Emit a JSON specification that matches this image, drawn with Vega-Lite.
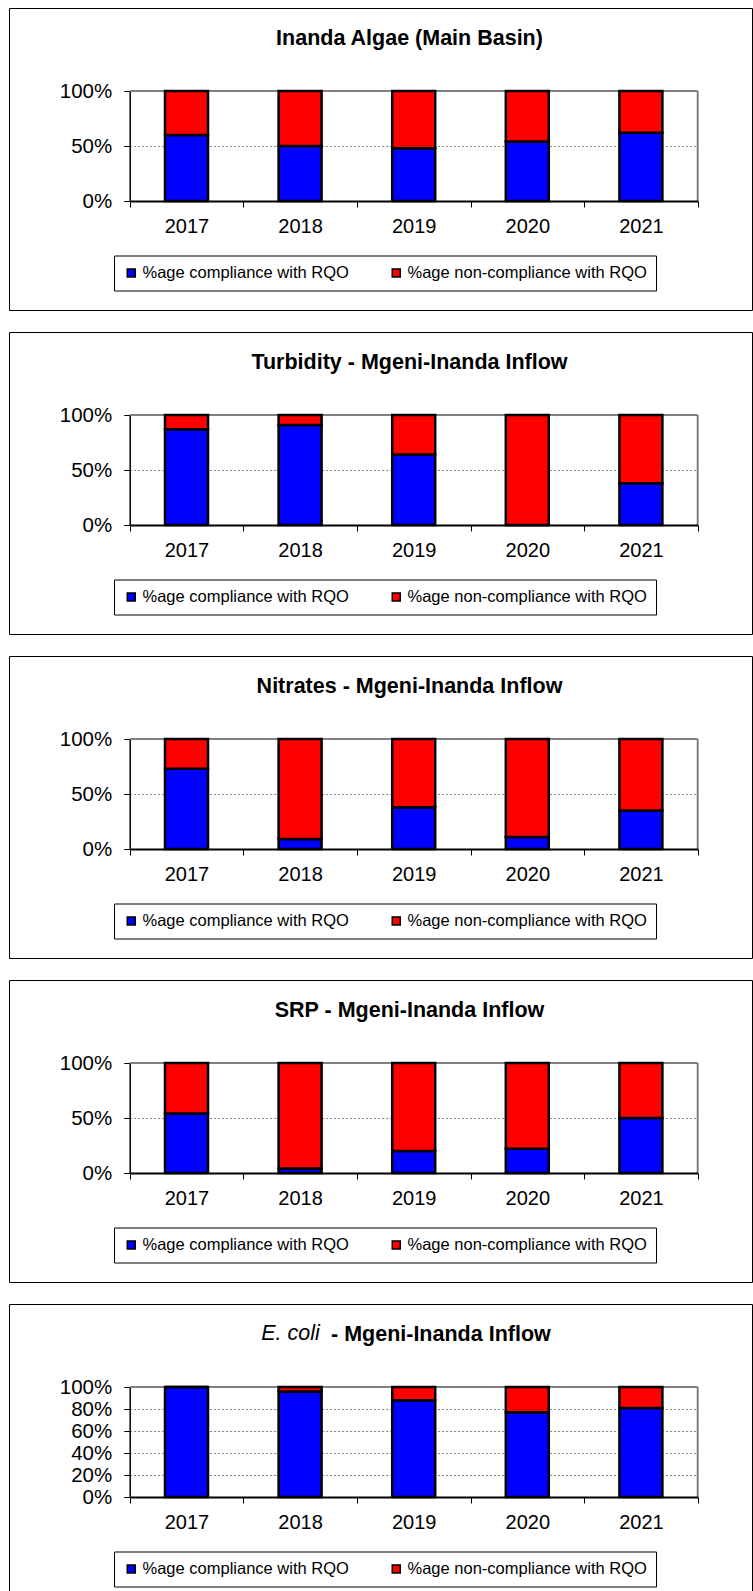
{
  "$schema": "https://vega.github.io/schema/vega-lite/v6.json",
  "padding": {"left": 8, "top": 7, "right": 0, "bottom": 0},
  "background": "white",
  "config": {
    "font": "Liberation Sans",
    "view": {"stroke": "black", "strokeWidth": 1},
    "axis": {"labelFont": "Liberation Sans", "labelColor": "black", "labelFontSize": 20},
    "legend": {"labelFont": "Liberation Sans", "labelColor": "black"},
    "scale": {"continuousPadding": 0}
  },
  "datasets": {
    "algae": [
      {"year": 2017, "series": "%age compliance with RQO", "value": 0.60},
      {"year": 2017, "series": "%age non-compliance with RQO", "value": 0.40},
      {"year": 2018, "series": "%age compliance with RQO", "value": 0.50},
      {"year": 2018, "series": "%age non-compliance with RQO", "value": 0.50},
      {"year": 2019, "series": "%age compliance with RQO", "value": 0.48},
      {"year": 2019, "series": "%age non-compliance with RQO", "value": 0.52},
      {"year": 2020, "series": "%age compliance with RQO", "value": 0.54},
      {"year": 2020, "series": "%age non-compliance with RQO", "value": 0.46},
      {"year": 2021, "series": "%age compliance with RQO", "value": 0.62},
      {"year": 2021, "series": "%age non-compliance with RQO", "value": 0.38}
    ],
    "turbidity": [
      {"year": 2017, "series": "%age compliance with RQO", "value": 0.87},
      {"year": 2017, "series": "%age non-compliance with RQO", "value": 0.13},
      {"year": 2018, "series": "%age compliance with RQO", "value": 0.91},
      {"year": 2018, "series": "%age non-compliance with RQO", "value": 0.09},
      {"year": 2019, "series": "%age compliance with RQO", "value": 0.64},
      {"year": 2019, "series": "%age non-compliance with RQO", "value": 0.36},
      {"year": 2020, "series": "%age compliance with RQO", "value": 0.0},
      {"year": 2020, "series": "%age non-compliance with RQO", "value": 1.0},
      {"year": 2021, "series": "%age compliance with RQO", "value": 0.38},
      {"year": 2021, "series": "%age non-compliance with RQO", "value": 0.62}
    ],
    "nitrates": [
      {"year": 2017, "series": "%age compliance with RQO", "value": 0.73},
      {"year": 2017, "series": "%age non-compliance with RQO", "value": 0.27},
      {"year": 2018, "series": "%age compliance with RQO", "value": 0.09},
      {"year": 2018, "series": "%age non-compliance with RQO", "value": 0.91},
      {"year": 2019, "series": "%age compliance with RQO", "value": 0.38},
      {"year": 2019, "series": "%age non-compliance with RQO", "value": 0.62},
      {"year": 2020, "series": "%age compliance with RQO", "value": 0.11},
      {"year": 2020, "series": "%age non-compliance with RQO", "value": 0.89},
      {"year": 2021, "series": "%age compliance with RQO", "value": 0.35},
      {"year": 2021, "series": "%age non-compliance with RQO", "value": 0.65}
    ],
    "srp": [
      {"year": 2017, "series": "%age compliance with RQO", "value": 0.54},
      {"year": 2017, "series": "%age non-compliance with RQO", "value": 0.46},
      {"year": 2018, "series": "%age compliance with RQO", "value": 0.04},
      {"year": 2018, "series": "%age non-compliance with RQO", "value": 0.96},
      {"year": 2019, "series": "%age compliance with RQO", "value": 0.20},
      {"year": 2019, "series": "%age non-compliance with RQO", "value": 0.80},
      {"year": 2020, "series": "%age compliance with RQO", "value": 0.22},
      {"year": 2020, "series": "%age non-compliance with RQO", "value": 0.78},
      {"year": 2021, "series": "%age compliance with RQO", "value": 0.50},
      {"year": 2021, "series": "%age non-compliance with RQO", "value": 0.50}
    ],
    "ecoli": [
      {"year": 2017, "series": "%age compliance with RQO", "value": 1.0},
      {"year": 2017, "series": "%age non-compliance with RQO", "value": 0.0},
      {"year": 2018, "series": "%age compliance with RQO", "value": 0.96},
      {"year": 2018, "series": "%age non-compliance with RQO", "value": 0.04},
      {"year": 2019, "series": "%age compliance with RQO", "value": 0.88},
      {"year": 2019, "series": "%age non-compliance with RQO", "value": 0.12},
      {"year": 2020, "series": "%age compliance with RQO", "value": 0.77},
      {"year": 2020, "series": "%age non-compliance with RQO", "value": 0.23},
      {"year": 2021, "series": "%age compliance with RQO", "value": 0.81},
      {"year": 2021, "series": "%age non-compliance with RQO", "value": 0.19}
    ],
    "one": [{}]
  },
  "spacing": 20,
  "resolve": {
    "scale": {"x": "independent", "y": "independent", "color": "independent"},
    "axis": {"x": "independent", "y": "independent"},
    "legend": {"color": "independent"}
  },
  "vconcat": [
    {
      "width": 743, "height": 302,
      "title": {"text": "Inanda Algae (Main Basin)", "anchor": "middle", "fontSize": 21.5, "fontWeight": "bold", "color": "black", "font": "Liberation Sans", "offset": -41, "dx": 29},
      "layer": [
        {"data": {"name": "one"}, "mark": {"type": "rule", "color": "#808080", "strokeWidth": 2},
         "encoding": {
           "x": {"datum": 2016.5, "type": "quantitative", "scale": {"domain": [2016.5, 2021.5], "range": [120.7, 688.7], "nice": false, "zero": false, "padding": 0},
                 "axis": {"title": null, "values": [2016.5, 2017.5, 2018.5, 2019.5, 2020.5, 2021.5], "labelExpr": "datum.value < 2021 ? format(datum.value + 0.5, 'd') : ''", "labelOffset": 56.8, "offset": -109, "tickSize": 6, "tickColor": "black", "domainColor": "black", "domainWidth": 2, "labelPadding": 9, "grid": false, "labelFlush": false, "labelOverlap": false, "labelBound": false, "zindex": 1}},
           "x2": {"datum": 2021.5},
           "y": {"datum": 1, "type": "quantitative", "scale": {"domain": [0, 1], "range": [193, 83], "nice": false, "zero": false},
                 "axis": {"title": null, "values": [0, 0.5, 1], "format": ".0%", "offset": -120.7, "grid": true, "gridColor": "#808080", "gridDash": [2, 2], "gridWidth": 1, "tickSize": 6, "tickColor": "black", "domainColor": "black", "domainWidth": 1.5, "labelPadding": 12, "labelFontSize": 20.5, "zindex": 0}}}},
        {"data": {"name": "one"}, "mark": {"type": "rule", "color": "#808080", "strokeWidth": 2},
         "encoding": {"x": {"datum": 2021.5, "type": "quantitative"}, "y": {"datum": 0, "type": "quantitative"}, "y2": {"datum": 1}}},
        {"data": {"name": "algae"}, "mark": {"type": "bar", "width": 43, "stroke": "black", "strokeWidth": 2.5},
         "encoding": {
           "x": {"field": "year", "type": "quantitative"},
           "y": {"field": "value", "type": "quantitative", "stack": "zero"},
           "order": {"field": "series", "type": "ordinal", "sort": "ascending"},
           "color": {"field": "series", "type": "nominal", "scale": {"domain": ["%age compliance with RQO", "%age non-compliance with RQO"], "range": ["#0000FF", "#FF0000"]},
                     "legend": {"orient": "none", "legendX": 105, "legendY": 247.5, "direction": "horizontal", "columns": 2, "gridAlign": "all", "title": null, "strokeColor": "black", "padding": 9, "symbolType": "square", "symbolSize": 64, "symbolStrokeColor": "black", "symbolStrokeWidth": 1.5, "labelFontSize": 16.5, "labelOffset": 3, "columnPadding": 6, "labelLimit": 400}}
         }}
      ]
    },
    {
      "width": 743, "height": 302,
      "title": {"text": "Turbidity - Mgeni-Inanda Inflow", "anchor": "middle", "fontSize": 21.5, "fontWeight": "bold", "color": "black", "font": "Liberation Sans", "offset": -41, "dx": 29},
      "layer": [
        {"data": {"name": "one"}, "mark": {"type": "rule", "color": "#808080", "strokeWidth": 2},
         "encoding": {
           "x": {"datum": 2016.5, "type": "quantitative", "scale": {"domain": [2016.5, 2021.5], "range": [120.7, 688.7], "nice": false, "zero": false, "padding": 0},
                 "axis": {"title": null, "values": [2016.5, 2017.5, 2018.5, 2019.5, 2020.5, 2021.5], "labelExpr": "datum.value < 2021 ? format(datum.value + 0.5, 'd') : ''", "labelOffset": 56.8, "offset": -109, "tickSize": 6, "tickColor": "black", "domainColor": "black", "domainWidth": 2, "labelPadding": 9, "grid": false, "labelFlush": false, "labelOverlap": false, "labelBound": false, "zindex": 1}},
           "x2": {"datum": 2021.5},
           "y": {"datum": 1, "type": "quantitative", "scale": {"domain": [0, 1], "range": [193, 83], "nice": false, "zero": false},
                 "axis": {"title": null, "values": [0, 0.5, 1], "format": ".0%", "offset": -120.7, "grid": true, "gridColor": "#808080", "gridDash": [2, 2], "gridWidth": 1, "tickSize": 6, "tickColor": "black", "domainColor": "black", "domainWidth": 1.5, "labelPadding": 12, "labelFontSize": 20.5, "zindex": 0}}}},
        {"data": {"name": "one"}, "mark": {"type": "rule", "color": "#808080", "strokeWidth": 2},
         "encoding": {"x": {"datum": 2021.5, "type": "quantitative"}, "y": {"datum": 0, "type": "quantitative"}, "y2": {"datum": 1}}},
        {"data": {"name": "turbidity"}, "mark": {"type": "bar", "width": 43, "stroke": "black", "strokeWidth": 2.5},
         "encoding": {
           "x": {"field": "year", "type": "quantitative"},
           "y": {"field": "value", "type": "quantitative", "stack": "zero"},
           "order": {"field": "series", "type": "ordinal", "sort": "ascending"},
           "color": {"field": "series", "type": "nominal", "scale": {"domain": ["%age compliance with RQO", "%age non-compliance with RQO"], "range": ["#0000FF", "#FF0000"]},
                     "legend": {"orient": "none", "legendX": 105, "legendY": 247.5, "direction": "horizontal", "columns": 2, "gridAlign": "all", "title": null, "strokeColor": "black", "padding": 9, "symbolType": "square", "symbolSize": 64, "symbolStrokeColor": "black", "symbolStrokeWidth": 1.5, "labelFontSize": 16.5, "labelOffset": 3, "columnPadding": 6, "labelLimit": 400}}
         }}
      ]
    },
    {
      "width": 743, "height": 302,
      "title": {"text": "Nitrates - Mgeni-Inanda Inflow", "anchor": "middle", "fontSize": 21.5, "fontWeight": "bold", "color": "black", "font": "Liberation Sans", "offset": -41, "dx": 29},
      "layer": [
        {"data": {"name": "one"}, "mark": {"type": "rule", "color": "#808080", "strokeWidth": 2},
         "encoding": {
           "x": {"datum": 2016.5, "type": "quantitative", "scale": {"domain": [2016.5, 2021.5], "range": [120.7, 688.7], "nice": false, "zero": false, "padding": 0},
                 "axis": {"title": null, "values": [2016.5, 2017.5, 2018.5, 2019.5, 2020.5, 2021.5], "labelExpr": "datum.value < 2021 ? format(datum.value + 0.5, 'd') : ''", "labelOffset": 56.8, "offset": -109, "tickSize": 6, "tickColor": "black", "domainColor": "black", "domainWidth": 2, "labelPadding": 9, "grid": false, "labelFlush": false, "labelOverlap": false, "labelBound": false, "zindex": 1}},
           "x2": {"datum": 2021.5},
           "y": {"datum": 1, "type": "quantitative", "scale": {"domain": [0, 1], "range": [193, 83], "nice": false, "zero": false},
                 "axis": {"title": null, "values": [0, 0.5, 1], "format": ".0%", "offset": -120.7, "grid": true, "gridColor": "#808080", "gridDash": [2, 2], "gridWidth": 1, "tickSize": 6, "tickColor": "black", "domainColor": "black", "domainWidth": 1.5, "labelPadding": 12, "labelFontSize": 20.5, "zindex": 0}}}},
        {"data": {"name": "one"}, "mark": {"type": "rule", "color": "#808080", "strokeWidth": 2},
         "encoding": {"x": {"datum": 2021.5, "type": "quantitative"}, "y": {"datum": 0, "type": "quantitative"}, "y2": {"datum": 1}}},
        {"data": {"name": "nitrates"}, "mark": {"type": "bar", "width": 43, "stroke": "black", "strokeWidth": 2.5},
         "encoding": {
           "x": {"field": "year", "type": "quantitative"},
           "y": {"field": "value", "type": "quantitative", "stack": "zero"},
           "order": {"field": "series", "type": "ordinal", "sort": "ascending"},
           "color": {"field": "series", "type": "nominal", "scale": {"domain": ["%age compliance with RQO", "%age non-compliance with RQO"], "range": ["#0000FF", "#FF0000"]},
                     "legend": {"orient": "none", "legendX": 105, "legendY": 247.5, "direction": "horizontal", "columns": 2, "gridAlign": "all", "title": null, "strokeColor": "black", "padding": 9, "symbolType": "square", "symbolSize": 64, "symbolStrokeColor": "black", "symbolStrokeWidth": 1.5, "labelFontSize": 16.5, "labelOffset": 3, "columnPadding": 6, "labelLimit": 400}}
         }}
      ]
    },
    {
      "width": 743, "height": 302,
      "title": {"text": "SRP - Mgeni-Inanda Inflow", "anchor": "middle", "fontSize": 21.5, "fontWeight": "bold", "color": "black", "font": "Liberation Sans", "offset": -41, "dx": 29},
      "layer": [
        {"data": {"name": "one"}, "mark": {"type": "rule", "color": "#808080", "strokeWidth": 2},
         "encoding": {
           "x": {"datum": 2016.5, "type": "quantitative", "scale": {"domain": [2016.5, 2021.5], "range": [120.7, 688.7], "nice": false, "zero": false, "padding": 0},
                 "axis": {"title": null, "values": [2016.5, 2017.5, 2018.5, 2019.5, 2020.5, 2021.5], "labelExpr": "datum.value < 2021 ? format(datum.value + 0.5, 'd') : ''", "labelOffset": 56.8, "offset": -109, "tickSize": 6, "tickColor": "black", "domainColor": "black", "domainWidth": 2, "labelPadding": 9, "grid": false, "labelFlush": false, "labelOverlap": false, "labelBound": false, "zindex": 1}},
           "x2": {"datum": 2021.5},
           "y": {"datum": 1, "type": "quantitative", "scale": {"domain": [0, 1], "range": [193, 83], "nice": false, "zero": false},
                 "axis": {"title": null, "values": [0, 0.5, 1], "format": ".0%", "offset": -120.7, "grid": true, "gridColor": "#808080", "gridDash": [2, 2], "gridWidth": 1, "tickSize": 6, "tickColor": "black", "domainColor": "black", "domainWidth": 1.5, "labelPadding": 12, "labelFontSize": 20.5, "zindex": 0}}}},
        {"data": {"name": "one"}, "mark": {"type": "rule", "color": "#808080", "strokeWidth": 2},
         "encoding": {"x": {"datum": 2021.5, "type": "quantitative"}, "y": {"datum": 0, "type": "quantitative"}, "y2": {"datum": 1}}},
        {"data": {"name": "srp"}, "mark": {"type": "bar", "width": 43, "stroke": "black", "strokeWidth": 2.5},
         "encoding": {
           "x": {"field": "year", "type": "quantitative"},
           "y": {"field": "value", "type": "quantitative", "stack": "zero"},
           "order": {"field": "series", "type": "ordinal", "sort": "ascending"},
           "color": {"field": "series", "type": "nominal", "scale": {"domain": ["%age compliance with RQO", "%age non-compliance with RQO"], "range": ["#0000FF", "#FF0000"]},
                     "legend": {"orient": "none", "legendX": 105, "legendY": 247.5, "direction": "horizontal", "columns": 2, "gridAlign": "all", "title": null, "strokeColor": "black", "padding": 9, "symbolType": "square", "symbolSize": 64, "symbolStrokeColor": "black", "symbolStrokeWidth": 1.5, "labelFontSize": 16.5, "labelOffset": 3, "columnPadding": 6, "labelLimit": 400}}
         }}
      ]
    },
    {
      "title": {"text": "E. coli", "anchor": "middle", "align": "left", "fontSize": 21.5, "fontWeight": "normal", "fontStyle": "italic", "color": "black", "font": "Liberation Sans", "offset": -41, "dx": -120.5},
      "resolve": {
        "scale": {"x": "independent", "y": "independent", "color": "independent"},
        "axis": {"x": "independent", "y": "independent"},
        "legend": {"color": "independent"}
      },
      "vconcat": [
        {
          "width": 743, "height": 296,
          "title": {"text": "- Mgeni-Inanda Inflow", "anchor": "middle", "align": "left", "fontSize": 21.5, "fontWeight": "bold", "color": "black", "font": "Liberation Sans", "offset": -41, "dx": -49.5},
          "layer": [
            {"data": {"name": "one"}, "mark": {"type": "rule", "color": "#808080", "strokeWidth": 2},
             "encoding": {
               "x": {"datum": 2016.5, "type": "quantitative", "scale": {"domain": [2016.5, 2021.5], "range": [120.7, 688.7], "nice": false, "zero": false, "padding": 0},
                     "axis": {"title": null, "values": [2016.5, 2017.5, 2018.5, 2019.5, 2020.5, 2021.5], "labelExpr": "datum.value < 2021 ? format(datum.value + 0.5, 'd') : ''", "labelOffset": 56.8, "offset": -103, "tickSize": 6, "tickColor": "black", "domainColor": "black", "domainWidth": 2, "labelPadding": 9, "grid": false, "labelFlush": false, "labelOverlap": false, "labelBound": false, "zindex": 1}},
               "x2": {"datum": 2021.5},
               "y": {"datum": 1, "type": "quantitative", "scale": {"domain": [0, 1], "range": [193, 83], "nice": false, "zero": false},
                     "axis": {"title": null, "values": [0, 0.2, 0.4, 0.6, 0.8, 1], "format": ".0%", "offset": -120.7, "grid": true, "gridColor": "#808080", "gridDash": [2, 2], "gridWidth": 1, "tickSize": 6, "tickColor": "black", "domainColor": "black", "domainWidth": 1.5, "labelPadding": 12, "labelFontSize": 20.5, "zindex": 0}}}},
            {"data": {"name": "one"}, "mark": {"type": "rule", "color": "#808080", "strokeWidth": 2},
             "encoding": {"x": {"datum": 2021.5, "type": "quantitative"}, "y": {"datum": 0, "type": "quantitative"}, "y2": {"datum": 1}}},
            {"data": {"name": "ecoli"}, "mark": {"type": "bar", "width": 43, "stroke": "black", "strokeWidth": 2.5},
             "encoding": {
               "x": {"field": "year", "type": "quantitative"},
               "y": {"field": "value", "type": "quantitative", "stack": "zero"},
               "order": {"field": "series", "type": "ordinal", "sort": "ascending"},
               "color": {"field": "series", "type": "nominal", "scale": {"domain": ["%age compliance with RQO", "%age non-compliance with RQO"], "range": ["#0000FF", "#FF0000"]},
                         "legend": {"orient": "none", "legendX": 105, "legendY": 247.5, "direction": "horizontal", "columns": 2, "gridAlign": "all", "title": null, "strokeColor": "black", "padding": 9, "symbolType": "square", "symbolSize": 64, "symbolStrokeColor": "black", "symbolStrokeWidth": 1.5, "labelFontSize": 16.5, "labelOffset": 3, "columnPadding": 6, "labelLimit": 400}}
             }}
          ]
        }
      ]
    }
  ]
}
